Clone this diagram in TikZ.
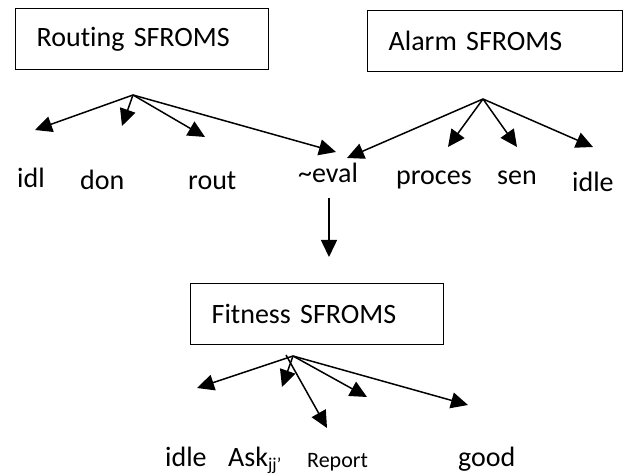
\documentclass[tikz,border=0pt]{standalone}
\usepackage{fontspec}
\setmainfont[Ligatures=CommonOff]{Carlito}
\usetikzlibrary{arrows.meta}
\begin{document}
\begin{tikzpicture}[x=1pt,y=-1pt,
  every node/.style={font=\fontsize{28}{32}\selectfont},
  box/.style={draw, line width=1.4pt, anchor=north west, minimum height=61pt,
    text width=211pt, inner xsep=21pt, inner ysep=0pt, align=left},
  lbl/.style={anchor=base west, inner sep=0pt},
  arr/.style={line width=1.5pt, -{Triangle[length=17pt,width=16pt]}}]
\useasboundingbox (0,0) rectangle (633,476);

% the three SFROMS boxes
\node[box] (routing) at (15,8)   {Routing SFROMS};
\node[box, text width=213pt] (alarm) at (367,10) {Alarm SFROMS};
\node[box] (fitness) at (190,283) {Fitness SFROMS};

% state labels
\node[lbl] (r1) at (17,188)  {idl};
\node[lbl] (r2) at (80,190)  {don};
\node[lbl] (r3) at (188,190) {rout};
\node[lbl] (ev) at (298,183) {\textasciitilde eval};
\node[lbl] (a2) at (396,185) {proces};
\node[lbl] (a3) at (497,185) {sen};
\node[lbl] (a4) at (572,192) {idle};

\node[lbl] (f1) at (165,466) {idle};
\node[lbl] (f2) at (228,466) {Ask{\fontsize{18}{18}\selectfont\raisebox{-4pt}{jj’}}};
\node[lbl, font=\fontsize{22}{26}\selectfont] (f3) at (307,467) {Report};
\node[lbl] (f4) at (458,466) {good};

% branching points
\coordinate (rh) at (133,95);
\coordinate (ah) at (483,99);
\coordinate (fh) at (293,356);

% arrow ends
\coordinate (rt1) at (35,130);
\coordinate (rt2) at (122,126);
\coordinate (rt3) at (205,137);
\coordinate (rt4) at (336,152);
\coordinate (at1) at (347,158);
\coordinate (at2) at (448,147);
\coordinate (at3) at (517,147);
\coordinate (at4) at (593,147);
\coordinate (vs) at (329,198);
\coordinate (vt) at (329,257);
\coordinate (fs) at (286,355);
\coordinate (ft1) at (197,388);
\coordinate (ft2) at (282,387);
\coordinate (ft3) at (327,428);
\coordinate (ft4) at (367,397);
\coordinate (ft5) at (468,405);

% Routing transitions
\foreach \t in {rt1,rt2,rt3,rt4} \draw[arr] (rh) -- (\t);
% Alarm transitions
\foreach \t in {at1,at2,at3,at4} \draw[arr] (ah) -- (\t);
% evaluation leads to Fitness
\draw[arr] (vs) -- (vt);
% Fitness transitions
\foreach \t in {ft1,ft2,ft4,ft5} \draw[arr] (fh) -- (\t);
\draw[arr] (fs) -- (ft3);
\end{tikzpicture}
\end{document}
